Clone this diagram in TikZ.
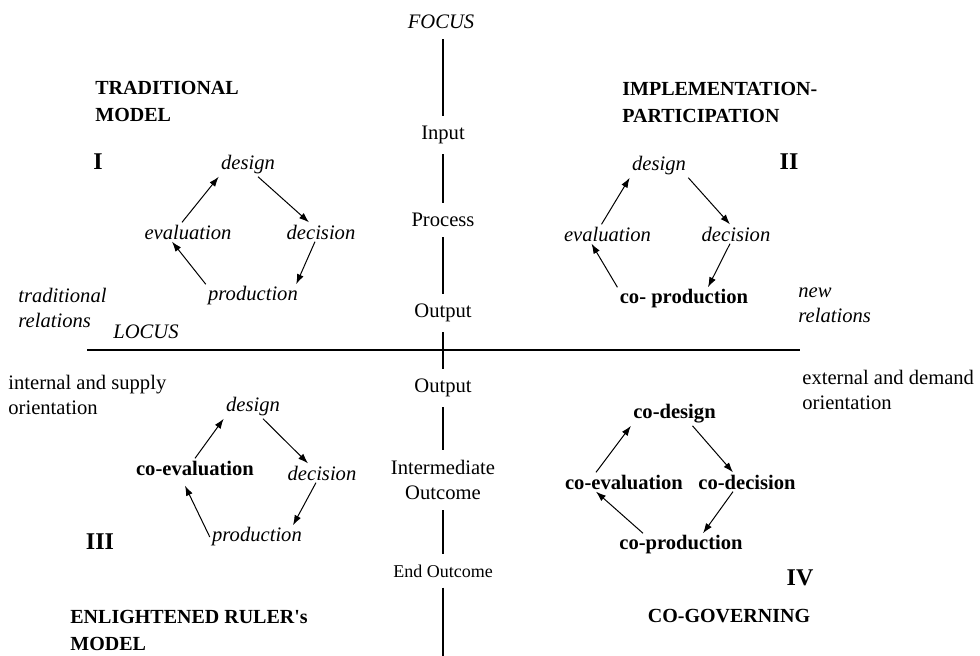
\documentclass[tikz,border=0pt]{standalone}
\usepackage{fontspec}
\setmainfont{Liberation Serif}
\usetikzlibrary{arrows.meta}
\tikzset{
	stage/.style={inner sep=1pt, font=\itshape},
	costage/.style={inner sep=1pt, font=\bfseries},
	axlbl/.style={inner sep=5pt, align=center},
	title/.style={anchor=west, align=left, inner sep=0pt, font=\fontsize{10}{13.5}\selectfont\bfseries},
	quad/.style={inner sep=0pt, font=\fontsize{12}{14}\selectfont\bfseries},
	note/.style={anchor=west, align=left, inner sep=0pt},
	arr/.style={-{Latex[length=5pt, width=3.5pt]}, line width=0.5pt},
	axis/.style={line width=0.75pt}
}
\begin{document}
\fontsize{10.3}{12.5}\selectfont
\begin{tikzpicture}[x=0.5pt, y=-0.5pt]
\useasboundingbox (0,0) rectangle (980,656);
\draw 	(441,22) node[axlbl, font=\itshape](focus){FOCUS}  (443,135) node[axlbl](in){Input}
		(443,220) node[axlbl](pc){Process}  (443,313) node[axlbl](out1){Output}
		(443,388) node[axlbl](out2){Output}  (443,480) node[axlbl](mid){Intermediate\\Outcome}
		(443,571) node[axlbl, font=\fontsize{9}{11}\selectfont](end){End Outcome};
\coordinate (west) at (87,350);
\coordinate (east) at (800,350);
\coordinate (bot) at (443,656);
\path[axis]
    (in.north |- focus.south) edge (in.north)
    (in) edge (pc)
    (pc) edge (out1)
    (out1) edge (out2)
    (out2) edge (mid)
    (mid) edge (end)
    (end) edge (bot)
    (west) edge (east);
\node[stage] at (146,332) (locus) {LOCUS};
\node[title] at (95,101.5) (t1) {TRADITIONAL\\MODEL};
\node[title] at (622,102.5) (t2) {IMPLEMENTATION-\\PARTICIPATION};
\node[title] at (70,630) (t3) {ENLIGHTENED RULER\textquotesingle s\\MODEL};
\node[title, anchor=center] at (729,616) (t4) {CO-GOVERNING};
\node[quad] at (98,162) (q1) {I};
\node[quad] at (789,162) (q2) {II};
\node[quad] at (100,542) (q3) {III};
\node[quad] at (800,578) (q4) {IV};
\node[note, font=\itshape] at (18,307.5) (r1) {traditional\\relations};
\node[note, font=\itshape] at (798,305) (r2) {new\\relations};
\node[note] at (8,394.5) (o1) {internal and supply\\orientation};
\node[note] at (802,390) (o2) {external and demand\\orientation};
\draw 	(248,165) node[stage](ds1){design}  (188,232) node[stage](ev1){evaluation}
		(321,232) node[stage](dc1){decision}  (253,296) node[stage](pr1){production};
\draw 	(659,166) node[stage](ds2){design}  (607.5,234) node[stage](ev2){evaluation}
		(736,234) node[stage](dc2){decision}  (684,299) node[costage](pr2){co- production};
\draw 	(253,407) node[stage](ds3){design}  (195,468) node[costage](ev3){co-evaluation}
		(322,473) node[stage](dc3){decision}  (257,537) node[stage](pr3){production};
\draw 	(674.5,414) node[costage](ds4){co-design}  (624,482) node[costage](ev4){co-evaluation}
		(747,482) node[costage](dc4){co-decision}  (681,545) node[costage](pr4){co-production};
\path[arr]
    ([xshift=-3pt]ev1.north) edge (ds1.south west)
    ([xshift=5pt]ds1.south) edge ([xshift=-6pt]dc1.north)
    ([xshift=-3pt]dc1.south) edge ([xshift=-2pt]pr1.north east)
    (pr1.north west) edge ([xshift=-8pt]ev1.south)
    ([xshift=-3pt]ev2.north) edge (ds2.south west)
    (ds2.south east) edge ([xshift=-3pt]dc2.north)
    ([xshift=-3pt]dc2.south) edge ([xshift=12pt]pr2.north)
    (pr2.north west) edge ([xshift=-8pt]ev2.south)
    (ev3.north) edge (ds3.south west)
    ([xshift=5pt]ds3.south) edge ([xshift=-7pt]dc3.north)
    ([xshift=-3pt]dc3.south) edge ([xshift=18pt]pr3.north)
    (pr3.west) edge ([xshift=-5pt,yshift=-4pt]ev3.south)
    ([xshift=-14pt]ev4.north) edge (ds4.south west)
    ([xshift=9pt]ds4.south) edge ([xshift=-7pt]dc4.north)
    ([xshift=-7pt]dc4.south) edge ([xshift=11pt]pr4.north)
    ([xshift=-19pt]pr4.north) edge ([xshift=-14pt]ev4.south);
\end{tikzpicture}
\end{document}
